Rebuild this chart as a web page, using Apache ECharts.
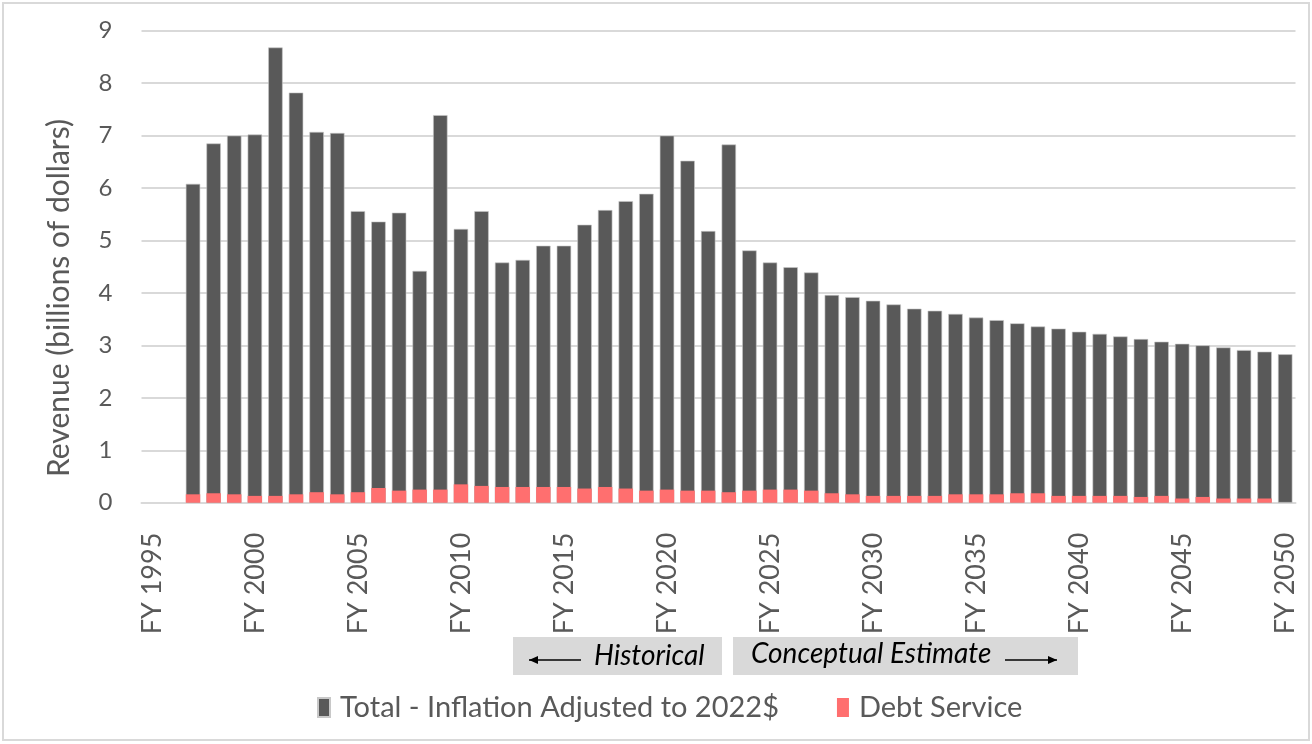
<!DOCTYPE html>
<html>
<head>
<meta charset="utf-8">
<script src="https://cdn.jsdelivr.net/npm/echarts@6/dist/echarts.min.js"></script>
<style>
  html, body { margin: 0; padding: 0; background: #ffffff; }
  #chart { width: 1312px; height: 744px; }
</style>
</head>
<body>
<div id="chart"></div>
<script>
// Fiscal years on the category axis (labels shown every fifth year)
const years = [
  'FY 1995','FY 1996','FY 1997','FY 1998','FY 1999','FY 2000','FY 2001','FY 2002','FY 2003','FY 2004',
  'FY 2005','FY 2006','FY 2007','FY 2008','FY 2009','FY 2010','FY 2011','FY 2012','FY 2013','FY 2014',
  'FY 2015','FY 2016','FY 2017','FY 2018','FY 2019','FY 2020','FY 2021','FY 2022','FY 2023','FY 2024',
  'FY 2025','FY 2026','FY 2027','FY 2028','FY 2029','FY 2030','FY 2031','FY 2032','FY 2033','FY 2034',
  'FY 2035','FY 2036','FY 2037','FY 2038','FY 2039','FY 2040','FY 2041','FY 2042','FY 2043','FY 2044',
  'FY 2045','FY 2046','FY 2047','FY 2048','FY 2049','FY 2050'
];

// Total revenue, inflation adjusted to 2022 dollars (billions)
const totalRevenue = [
  null, null, 6.08, 6.85, 7.00, 7.02, 8.68, 7.82, 7.07, 7.05,
  5.56, 5.36, 5.53, 4.42, 7.39, 5.22, 5.56, 4.58, 4.63, 4.90,
  4.90, 5.30, 5.58, 5.75, 5.89, 7.00, 6.52, 5.18, 6.83, 4.81,
  4.58, 4.49, 4.39, 3.96, 3.92, 3.85, 3.78, 3.70, 3.66, 3.60,
  3.53, 3.48, 3.42, 3.36, 3.32, 3.26, 3.22, 3.17, 3.12, 3.07,
  3.03, 3.00, 2.96, 2.91, 2.88, 2.83
];

// Debt service portion (billions)
const debtService = [
  null, null, 0.16, 0.18, 0.16, 0.13, 0.13, 0.16, 0.20, 0.16,
  0.20, 0.28, 0.23, 0.25, 0.25, 0.35, 0.32, 0.30, 0.30, 0.30,
  0.30, 0.27, 0.30, 0.27, 0.23, 0.25, 0.23, 0.23, 0.20, 0.23,
  0.25, 0.25, 0.23, 0.18, 0.16, 0.13, 0.13, 0.13, 0.13, 0.16,
  0.16, 0.16, 0.18, 0.18, 0.13, 0.13, 0.13, 0.13, 0.11, 0.13,
  0.08, 0.11, 0.08, 0.08, 0.08, 0
];

const seriesNames = ['Total - Inflation Adjusted to 2022$', 'Debt Service'];
const yAxisTitle = 'Revenue (billions of dollars)';
const periodLabels = ['Historical', 'Conceptual Estimate'];

const FONT = 'Lato, "Open Sans", sans-serif';
const GREY_TEXT = '#595959';
const GRID_LINE = '#d9d9d9';
const BOX_FILL = '#d9d9d9';

const chart = echarts.init(document.getElementById('chart'), null, { renderer: 'canvas' });

// Arrow helper: shaft plus a small filled head
function arrow(x1, x2, y, headLeft) {
  const hx = headLeft ? x1 : x2;
  const dir = headLeft ? 1 : -1;
  return [
    { type: 'line', shape: { x1: x1, y1: y, x2: x2, y2: y }, style: { stroke: '#000', lineWidth: 1.5 }, silent: true },
    { type: 'polygon', shape: { points: [[hx, y], [hx + dir * 9, y - 4], [hx + dir * 9, y + 4]] }, style: { fill: '#000' }, silent: true }
  ];
}

const option = {
  backgroundColor: '#ffffff',
  animation: false,
  grid: { left: 141.5, right: 16.5, top: 30.7, bottom: 241.3, containLabel: false },
  legend: {
    data: seriesNames,
    left: 312,
    top: 688,
    itemWidth: 12,
    itemHeight: 19,
    itemGap: 58,
    icon: 'rect',
    textStyle: { fontFamily: FONT, fontSize: 29, color: GREY_TEXT, padding: [0, 0, 0, 5] }
  },
  xAxis: {
    type: 'category',
    data: years,
    boundaryGap: true,
    axisLine: { show: true, lineStyle: { color: GRID_LINE, width: 2 } },
    axisTick: { show: false },
    axisLabel: {
      interval: 4,
      rotate: 90,
      margin: 30,
      fontFamily: FONT,
      fontSize: 27,
      color: GREY_TEXT
    },
    splitLine: { show: false }
  },
  yAxis: {
    type: 'value',
    min: 0,
    max: 9,
    interval: 1,
    axisLine: { show: false },
    axisTick: { show: false },
    axisLabel: { margin: 29, fontFamily: FONT, fontSize: 24, color: GREY_TEXT },
    splitLine: { lineStyle: { color: GRID_LINE, width: 2 } }
  },
  series: [
    {
      name: seriesNames[0],
      type: 'bar',
      data: totalRevenue,
      barWidth: '70%',
      barGap: '-100%',
      itemStyle: { color: '#595959', borderColor: '#c8c8c8', borderWidth: 0.6 }
    },
    {
      name: seriesNames[1],
      type: 'bar',
      data: debtService,
      barWidth: '70%',
      barGap: '-100%',
      itemStyle: { color: '#ff6f6f' }
    }
  ],
  graphic: [
    // outer frame
    { type: 'rect', shape: { x: 3, y: 3, width: 1306, height: 737 }, style: { fill: 'none', stroke: '#d9d9d9', lineWidth: 2 }, silent: true, z: -10 },
    // y-axis title
    {
      type: 'text', x: 59, y: 298, rotation: Math.PI / 2,
      style: { text: yAxisTitle, fontFamily: FONT, fontSize: 30, fill: GREY_TEXT, align: 'center', verticalAlign: 'middle' },
      silent: true
    },
    // period boxes
    { type: 'rect', shape: { x: 513, y: 637, width: 209, height: 38 }, style: { fill: BOX_FILL }, silent: true },
    { type: 'rect', shape: { x: 733, y: 637, width: 345, height: 38 }, style: { fill: BOX_FILL }, silent: true },
    ...arrow(529, 581, 660, true),
    {
      type: 'text', x: 594, y: 656,
      style: { text: periodLabels[0], fontFamily: FONT, fontStyle: 'italic', fontSize: 28, fill: '#000', align: 'left', verticalAlign: 'middle' },
      silent: true
    },
    {
      type: 'text', x: 751, y: 654,
      style: { text: periodLabels[1], fontFamily: FONT, fontStyle: 'italic', fontSize: 28, fill: '#000', align: 'left', verticalAlign: 'middle' },
      silent: true
    },
    ...arrow(1005, 1057, 660, false)
  ]
};

chart.setOption(option);
</script>
</body>
</html>
